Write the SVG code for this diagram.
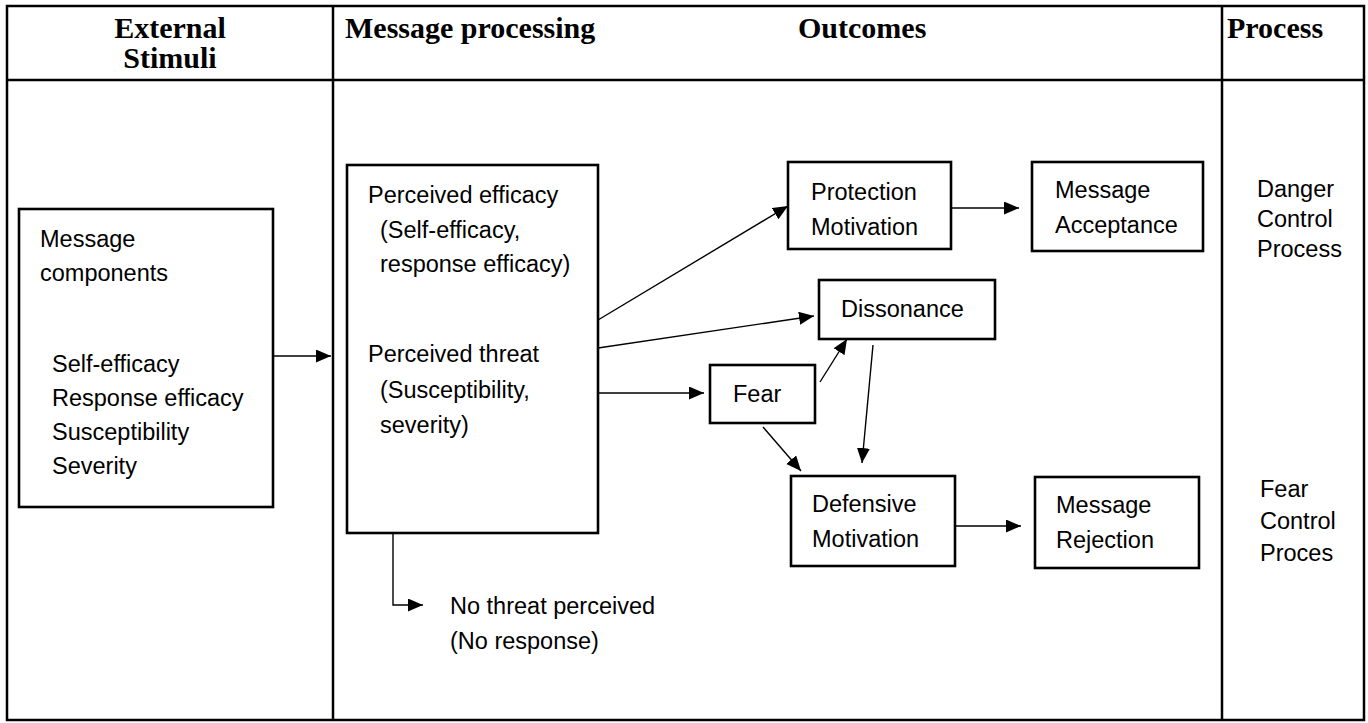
<svg xmlns="http://www.w3.org/2000/svg" width="1368" height="723" viewBox="0 0 1368 723">
<style>
.tbl{fill:none;stroke:#000;stroke-width:2.5}
.box{fill:#fff;stroke:#000;stroke-width:2.6}
.hd{font-family:"Liberation Serif","Times New Roman",serif;font-weight:bold;font-size:30px;fill:#000}
.t{font-family:"Liberation Sans",Arial,sans-serif;font-size:23.5px;fill:#000}
.c{fill:none;stroke:#000;stroke-width:1.4}
</style>
<defs>
<marker id="ah" markerUnits="userSpaceOnUse" markerWidth="16" markerHeight="14" refX="15" refY="6.5" orient="auto">
<path d="M0,0 L15,6.5 L0,13 z" fill="#000"/>
</marker>
</defs>
<rect width="1368" height="723" fill="#fff"/>
<g id="table">
<rect class="tbl" x="7" y="6" width="1357" height="714"/>
<line class="tbl" x1="7" y1="80" x2="1364" y2="80"/>
<line class="tbl" x1="333" y1="6" x2="333" y2="720"/>
<line class="tbl" x1="1222" y1="6" x2="1222" y2="720"/>
<text class="hd" x="170" y="38" text-anchor="middle">External</text>
<text class="hd" x="170" y="68" text-anchor="middle">Stimuli</text>
<text class="hd" x="345" y="38">Message processing</text>
<text class="hd" x="798" y="38">Outcomes</text>
<text class="hd" x="1227" y="38">Process</text>
</g>
<g id="connectors">
<path class="c" d="M273,356 H331" marker-end="url(#ah)"/>
<path class="c" d="M598,320 L788,206" marker-end="url(#ah)"/>
<path class="c" d="M598,348 L814,316" marker-end="url(#ah)"/>
<path class="c" d="M598,393 H704" marker-end="url(#ah)"/>
<path class="c" d="M820,382 L847,339" marker-end="url(#ah)"/>
<path class="c" d="M873,345 L862,463" marker-end="url(#ah)"/>
<path class="c" d="M763,427 L801,471" marker-end="url(#ah)"/>
<path class="c" d="M951,208 H1019" marker-end="url(#ah)"/>
<path class="c" d="M955,526 H1021" marker-end="url(#ah)"/>
<path class="c" d="M393,533 V605 H423" marker-end="url(#ah)"/>
</g>
<g id="message-components">
<rect class="box" x="19" y="209" width="254" height="298"/>
<text class="t" x="40" y="247">Message</text>
<text class="t" x="40" y="281">components</text>
<text class="t" x="52" y="372">Self-efficacy</text>
<text class="t" x="52" y="406">Response efficacy</text>
<text class="t" x="52" y="440">Susceptibility</text>
<text class="t" x="52" y="474">Severity</text>
</g>
<g id="perceived">
<rect class="box" x="347" y="165" width="251" height="368"/>
<text class="t" x="368" y="203">Perceived efficacy</text>
<text class="t" x="380" y="238">(Self-efficacy,</text>
<text class="t" x="380" y="272">response efficacy)</text>
<text class="t" x="368" y="362">Perceived threat</text>
<text class="t" x="380" y="398">(Susceptibility,</text>
<text class="t" x="380" y="433">severity)</text>
</g>
<g id="protection-motivation">
<rect class="box" x="788" y="162" width="163" height="87"/>
<text class="t" x="811" y="200">Protection</text>
<text class="t" x="811" y="235">Motivation</text>
</g>
<g id="message-acceptance">
<rect class="box" x="1032" y="162" width="171" height="89"/>
<text class="t" x="1055" y="198">Message</text>
<text class="t" x="1055" y="233">Acceptance</text>
</g>
<g id="dissonance">
<rect class="box" x="819" y="280" width="176" height="59"/>
<text class="t" x="841" y="317">Dissonance</text>
</g>
<g id="fear">
<rect class="box" x="710" y="365" width="105" height="58"/>
<text class="t" x="733" y="402">Fear</text>
</g>
<g id="defensive-motivation">
<rect class="box" x="791" y="476" width="164" height="90"/>
<text class="t" x="812" y="512">Defensive</text>
<text class="t" x="812" y="547">Motivation</text>
</g>
<g id="message-rejection">
<rect class="box" x="1035" y="477" width="164" height="91"/>
<text class="t" x="1056" y="513">Message</text>
<text class="t" x="1056" y="548">Rejection</text>
</g>
<g id="no-threat">
<text class="t" x="450" y="614">No threat perceived</text>
<text class="t" x="450" y="649">(No response)</text>
</g>
<g id="process-labels">
<text class="t" x="1257" y="197">Danger</text>
<text class="t" x="1257" y="227">Control</text>
<text class="t" x="1257" y="257">Process</text>
<text class="t" x="1260" y="497">Fear</text>
<text class="t" x="1260" y="529">Control</text>
<text class="t" x="1260" y="561">Proces</text>
</g>
</svg>
